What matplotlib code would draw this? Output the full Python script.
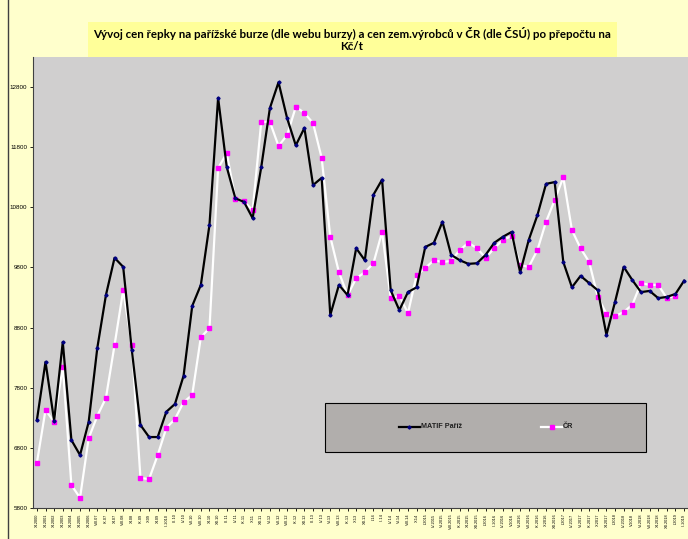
import numpy as np
import matplotlib
matplotlib.use("Agg")
import matplotlib.pyplot as plt
from matplotlib.patches import Rectangle
from matplotlib.lines import Line2D

labels = ["XI.2000", "XI.2001", "XI.2002", "XI.2003", "XI.2004", "XI.2005", "XI.2006",
          "VIII.07", "IX.07", "XI.07", "VIII.08", "XI.08", "IX.09", "X.09", "XI.09",
          "II.2010", "III.10", "IV.10", "VII.10", "VIII.10", "XI.10", "XII.10", "III.11",
          "IV.11", "IX.11", "X.11", "XII.11", "VI.12", "VII.12", "VIII.12", "IX.12",
          "XII.12", "III.13", "IV.13", "VI.13", "VIII.13", "IX.13", "X.13", "XII.13",
          "I.14", "II.14", "IV.14", "VI.14", "VIII.14", "X.14", "I.2015", "IV.2015",
          "VI.2015", "VIII.2015", "IX.2015", "XI.2015", "XII.2015", "I.2016", "II.2016",
          "IV.2016", "V.2016", "VI.2016", "VII.2016", "IX.2016", "X.2016", "XII.2016",
          "I.2017", "IV.2017", "VI.2017", "IX.2017", "X.2017", "XI.2017", "I.2018",
          "IV.2018", "V.2018", "VI.2018", "VII.2018", "XI.2018", "XII.2018", "I.2019",
          "II.2019"]

matif = [7260, 8230, 7250, 8560, 6930, 6680, 7230, 8460, 9340, 9960,
         9810, 8430, 7180, 6980, 6980, 7400, 7530, 8000, 9160, 9510,
         10510, 12620, 11470, 10950, 10890, 10620, 11470, 12450, 12880, 12280,
         11830, 12120, 11170, 11290, 9010, 9510, 9340, 10120, 9920, 11010,
         11260, 9420, 9090, 9390, 9470, 10140, 10210, 10560, 10010, 9920,
         9860, 9870, 10010, 10210, 10310, 10390, 9720, 10260, 10670, 11190,
         11220, 9890, 9470, 9660, 9540, 9420, 8680, 9230, 9810, 9590,
         9390, 9410, 9290, 9310, 9360, 9580]

cr = [6550, 7430, 7230, 8150, 6180, 5970, 6960, 7330, 7630, 8510,
      9420, 8510, 6300, 6280, 6680, 7130, 7280, 7560, 7680, 8640,
      8790, 11450, 11700, 10940, 10900, 10750, 12220, 12220, 11820, 12000,
      12470, 12370, 12200, 11620, 10310, 9720, 9340, 9620, 9720, 9870,
      10390, 9290, 9330, 9040, 9670, 9790, 9920, 9890, 9910, 10090,
      10210, 10120, 9960, 10120, 10260, 10320, 9840, 9810, 10090, 10560,
      10920, 11300, 10420, 10120, 9890, 9310, 9030, 8990, 9060, 9180,
      9540, 9510, 9510, 9290, 9330, np.nan]

title = "Vývoj cen řepky na pařížské burze (dle webu burzy) a cen zem.výrobců v ČR (dle ČSÚ) po přepočtu na\nKč/t"

W, H = 688, 539
fig = plt.figure(figsize=(W / 100, H / 100), dpi=100)
fig.patch.set_facecolor("#FFFFCC")

ax = fig.add_axes([33 / W, (H - 508) / H, (688 - 33) / W, (508 - 57) / H])
ax.set_facecolor("#D0CFCF")

x = np.arange(len(labels))
ax.plot(x, cr, color="white", lw=1.6, marker="s", markersize=2.4,
        markerfacecolor="#FF00FF", markeredgecolor="#FF00FF", zorder=3)
ax.plot(x, matif, color="black", lw=1.6, marker="D", markersize=1.6,
        markerfacecolor="#000080", markeredgecolor="#000080", zorder=4)

ax.set_xlim(-0.45, len(labels) - 0.55)
ax.set_ylim(5800, 13300)
ax.set_yticks(np.arange(5800, 12801, 1000))
ax.set_yticklabels([str(v) for v in range(5800, 12801, 1000)], fontsize=4.5,
                   family="Liberation Sans")
ax.set_xticks(x)
ax.set_xticklabels(labels, rotation=90, fontsize=2.8, family="Liberation Sans")
ax.tick_params(axis="both", direction="out", length=2.5, width=0.6, pad=1.5)

for s in ["top", "right"]:
    ax.spines[s].set_visible(False)
ax.spines["left"].set_color("#404040")
ax.spines["bottom"].set_color("#404040")

# outer border line on the left
fig.add_artist(Line2D([8 / W, 8 / W], [0, 1], color="#404040", lw=1.0))

# title box
fig.add_artist(Rectangle((88 / W, 1 - 57 / H), (617 - 88) / W, (57 - 22) / H,
                         facecolor="#FFFF99", edgecolor="none", zorder=5))
fig.text(352 / W, 1 - 39.5 / H, title, ha="center", va="center", fontsize=8.3,
         fontweight="bold", family="Lato", linespacing=1.2, zorder=6)

# legend box
fig.add_artist(Rectangle((325 / W, 1 - 452 / H), (646 - 325) / W, (452 - 403) / H,
                         facecolor="#B1AEAC", edgecolor="black", lw=0.8, zorder=5))
ly = 1 - 427 / H
fig.add_artist(Line2D([399 / W, 420 / W], [ly, ly], color="black", lw=1.6, zorder=6))
fig.add_artist(Line2D([409 / W], [ly], color="#000080", marker="D", markersize=1.6,
                      lw=0, zorder=7))
fig.text(421 / W, ly, "MATIF Paříž", ha="left", va="center", fontsize=5.2,
         fontweight="bold", family="Liberation Sans", color="#202020", zorder=7)
fig.add_artist(Line2D([541 / W, 562 / W], [ly, ly], color="white", lw=1.6, zorder=6))
fig.add_artist(Line2D([551.5 / W], [ly], color="#FF00FF", marker="s", markersize=3,
                      lw=0, zorder=7))
fig.text(563 / W, ly, "ČR", ha="left", va="center", fontsize=5.2,
         fontweight="bold", family="Liberation Sans", color="#202020", zorder=7)

fig.savefig("out.png", dpi=100, facecolor=fig.get_facecolor())
